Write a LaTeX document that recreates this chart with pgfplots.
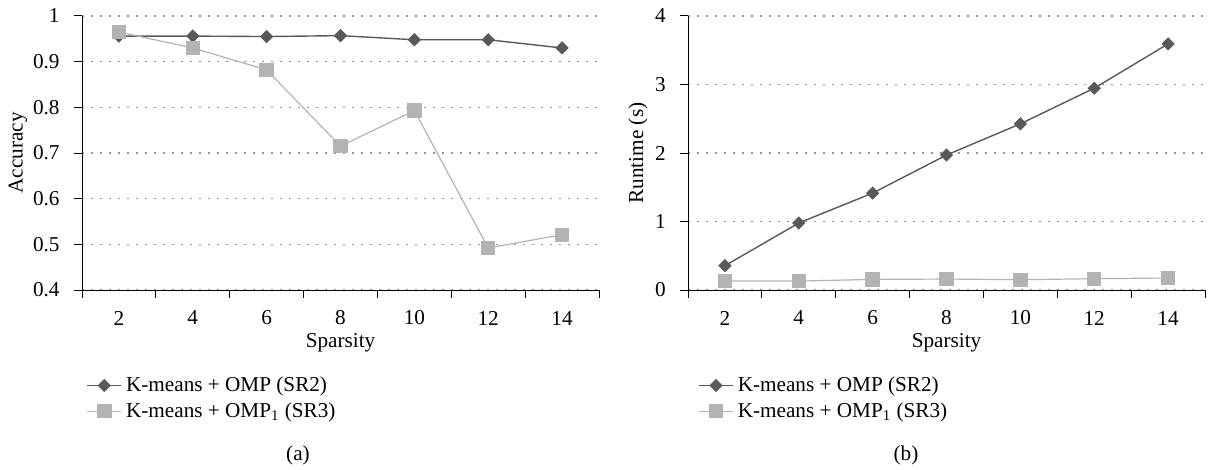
\documentclass[border=0pt]{standalone}
\usepackage{pgfplots}
\pgfplotsset{compat=1.18}
\usepackage{fontspec}
\setmainfont{Liberation Serif}

\definecolor{darkser}{HTML}{595959}
\definecolor{lightser}{HTML}{B3B3B3}
\newcommand{\figfont}{\fontsize{10.6}{12.7}\selectfont}

\pgfplotsset{
  panel/.style={
    scale only axis,
    width=258.5pt, height=137pt,
    font=\figfont,
    xmin=1, xmax=15,
    axis x line*=bottom, axis y line*=left,
    axis line style={black, line width=0.5pt},
    tick align=outside,
    major tick length=4pt,
    tick style={black, line width=0.5pt},
    xtick={1,3,...,15}, xticklabels={},
    extra x ticks={2,4,...,14},
    extra x tick labels={2,4,6,8,10,12,14},
    extra x tick style={major tick length=0pt},
    xticklabel style={anchor=center, yshift=-14pt},
    yticklabel style={anchor=east, inner sep=0pt, xshift=-7pt},
    tick label style={font=\figfont, /pgf/number format/assume math mode=true},
    ymajorgrids,
    major grid style={gray!85, line width=0.6pt, dash pattern=on 0.8pt off 3.7pt},
    xlabel={Sparsity},
    legend cell align=left,
    clip=false,
  },
  sr2/.style={color=darkser, line width=0.7pt, mark=square*,
    mark size=2pt, mark options={rotate=45, fill=darkser, draw=darkser}},
  sr3/.style={color=lightser, line width=0.6pt, mark=square*,
    mark size=3.3pt, mark options={fill=lightser, draw=lightser}},
}

\begin{document}
\begin{tikzpicture}[font=\figfont]
\path[use as bounding box] (0,0) rectangle (604pt,-235pt);

\begin{axis}[panel,
  at={(41pt,-145pt)}, anchor=south west,
  ymin=0.4, ymax=1,
  ytick={0.4,0.5,0.6,0.7,0.8,0.9,1},
  yticklabel style={/pgf/number format/fixed, /pgf/number format/precision=1},
  ylabel={Accuracy},
  ylabel style={at={(axis description cs:-0.124,0.5)}, anchor=center},
  xlabel style={at={(axis description cs:0.5,-0.193)}, anchor=center},
  legend style={draw=none, fill=none, at={(axis description cs:0.008,-0.30)},
    anchor=north west, inner sep=0pt, row sep=0pt, font=\figfont},
]
\addplot[sr2] coordinates {
  (2,0.956) (4,0.956) (6,0.955) (8,0.957) (10,0.948) (12,0.948) (14,0.930)
};
\addlegendentry{K-means + OMP (SR2)}
\addplot[sr3] coordinates {
  (2,0.965) (4,0.930) (6,0.882) (8,0.715) (10,0.793) (12,0.492) (14,0.521)
};
\addlegendentry{K-means + OMP\textsubscript{1} (SR3)}
\end{axis}

\begin{axis}[panel,
  at={(344pt,-145pt)}, anchor=south west,
  ymin=0, ymax=4,
  ytick={0,1,2,3,4},
  ylabel={Runtime (s)},
  ylabel style={at={(axis description cs:-0.0965,0.5)}, anchor=center},
  xlabel style={at={(axis description cs:0.5,-0.193)}, anchor=center},
  legend style={draw=none, fill=none, at={(axis description cs:0.019,-0.30)},
    anchor=north west, inner sep=0pt, row sep=0pt, font=\figfont},
]
\addplot[sr2] coordinates {
  (2,0.355) (4,0.978) (6,1.415) (8,1.97) (10,2.426) (12,2.946) (14,3.593)
};
\addlegendentry{K-means + OMP (SR2)}
\addplot[sr3] coordinates {
  (2,0.13) (4,0.13) (6,0.155) (8,0.16) (10,0.15) (12,0.165) (14,0.175)
};
\addlegendentry{K-means + OMP\textsubscript{1} (SR3)}
\end{axis}

\node at (149pt,-227.5pt) {(a)};
\node at (453pt,-227.5pt) {(b)};
\end{tikzpicture}
\end{document}
